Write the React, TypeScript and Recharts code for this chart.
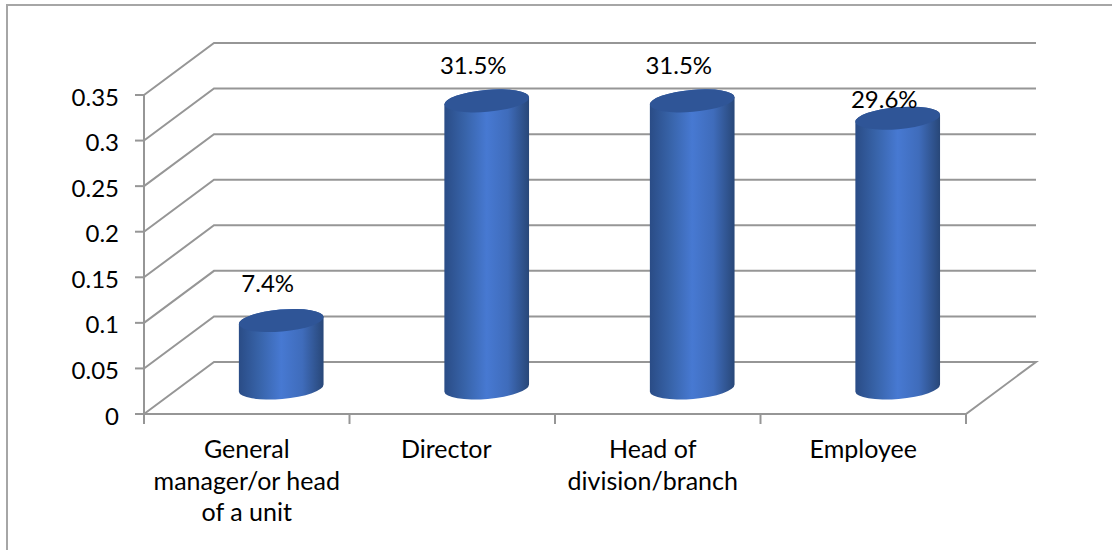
import React from 'react';
import {Bar, BarChart, CartesianGrid, LabelList, XAxis, YAxis} from "recharts";

const categories = ["General manager/or head of a unit", "Director", "Head of division/branch", "Employee"];
const shares = [0.074, 0.315, 0.315, 0.296];
const shareLabels = ["7.4%", "31.5%", "31.5%", "29.6%"];
const yTicks = [0, 0.05, 0.1, 0.15, 0.2, 0.25, 0.3, 0.35];

// how each axis label breaks and how far it sits from the band centre
const categoryLines = [["General", "manager/or head", "of a unit"], ["Director"], ["Head of", "division/branch"], ["Employee"]];
const categoryShift = [0, -6, -5, 0];
// labels are not all at the same height over the bars
const labelLift = [38, 36, 36, 20];

const FONT = "Lato, Carlito, sans-serif";
const GRID = "#969696";
const DEPTH_X = 70;
const DEPTH_Y = 52;
const BAND = 205.5;
const TILT = 5;

const chartData = categories.map((name, i) => ({name, share: shares[i], label: shareLabels[i]}));

const wallLine = (props: any) => {
    const {x1, x2, y1} = props;
    const backY = y1 - DEPTH_Y;
    const isFloor = Math.abs(y1 - 414) < 1;
    const d = isFloor
        ? `M${x1} ${y1} L${x1 + DEPTH_X} ${backY} L${x2 + DEPTH_X} ${backY} L${x2} ${y1} Z`
        : `M${x1} ${y1} L${x1 + DEPTH_X} ${backY} L${x2 + DEPTH_X} ${backY}`;
    return <path key={`wall-${y1}`} d={d} fill="none" stroke={GRID} strokeWidth={2}/>;
};

const Cylinder = (props: any) => {
    const {x, y, width, height} = props;
    const cx = x + width / 2 + DEPTH_X / 2 - 0.5;
    const rx = width / 2;
    const ry = 11;
    const rad = TILT * Math.PI / 180;
    const dx = rx * Math.cos(rad);
    const dy = rx * Math.sin(rad);
    const top = y - DEPTH_Y / 2;
    const bottom = top + height;
    const body = `M${cx - dx} ${top + dy} L${cx - dx} ${bottom + dy}`
        + ` A${rx} ${ry} ${-TILT} 0 0 ${cx + dx} ${bottom - dy}`
        + ` L${cx + dx} ${top - dy} A${rx} ${ry} ${-TILT} 0 0 ${cx - dx} ${top + dy} Z`;
    return (
        <g>
            <path d={body} fill="url(#cylinderSide)"/>
            <ellipse cx={cx} cy={top} rx={rx} ry={ry} fill="#2f5597"
                     transform={`rotate(${-TILT} ${cx} ${top})`}/>
        </g>
    );
};

const CategoryTick = (props: any) => {
    const {x, y, index} = props;
    const lines = categoryLines[index] || [];
    return (
        <g>
            <line x1={x - BAND / 2} x2={x - BAND / 2} y1={414} y2={424} stroke={GRID} strokeWidth={2}/>
            {index === categories.length - 1 && (
                <line x1={x + BAND / 2} x2={x + BAND / 2} y1={414} y2={424} stroke={GRID} strokeWidth={2}/>
            )}
            <text x={x + categoryShift[index]} y={y} textAnchor="middle" fontFamily={FONT} fontSize={25} fill="#000">
                {lines.map((line, i) => (
                    <tspan key={line} x={x + categoryShift[index]} dy={i === 0 ? 0 : 31.5}>{line}</tspan>
                ))}
            </text>
        </g>
    );
};

const ShareLabel = (props: any) => {
    const {x, y, width, index, value} = props;
    return (
        <text x={x + width / 2 + 21} y={y - 26 - labelLift[index]} textAnchor="middle" dominantBaseline="central"
              fontFamily={FONT} fontSize={24} fill="#000">{value}</text>
    );
};

const App: React.FC = () => {
    return (
        <div style={{position: 'absolute', left: 0, top: 0, width: 1112, height: 550, overflow: 'hidden', background: '#fff'}}>
            <div style={{position: 'absolute', left: 6, top: 4, width: 1200, height: 700, border: '2px solid #a6a6a6'}}/>
            <div style={{position: 'absolute', left: 0, top: 0}}>
                <BarChart width={1112} height={550} data={chartData} barCategoryGap="29.3%"
                          margin={{top: 95, right: 146, bottom: 0, left: 0}}>
                    <defs>
                        <linearGradient id="cylinderSide" x1="0" y1="0" x2="1" y2="0">
                            <stop offset="0" stopColor="#2a4c86"/>
                            <stop offset="0.25" stopColor="#3864aa"/>
                            <stop offset="0.5" stopColor="#4779d2"/>
                            <stop offset="0.75" stopColor="#3f6cbb"/>
                            <stop offset="1" stopColor="#284778"/>
                        </linearGradient>
                    </defs>
                    <CartesianGrid vertical={false} horizontal={wallLine} syncWithTicks/>
                    <XAxis dataKey="name" interval={0} height={136} axisLine={false} tickLine={false}
                           tick={CategoryTick} tickMargin={38}/>
                    <YAxis width={144} domain={[0, 0.35]} ticks={yTicks} interval={0}
                           axisLine={{stroke: GRID, strokeWidth: 2}} tickLine={{stroke: GRID, strokeWidth: 2}}
                           tickSize={9} tickMargin={16}
                           tick={{fontFamily: FONT, fontSize: 24, fill: '#000', dy: 2}}/>
                    <Bar dataKey="share" shape={Cylinder} isAnimationActive={false}>
                        <LabelList dataKey="label" content={ShareLabel}/>
                    </Bar>
                </BarChart>
            </div>
        </div>
    );
};

export default App;
